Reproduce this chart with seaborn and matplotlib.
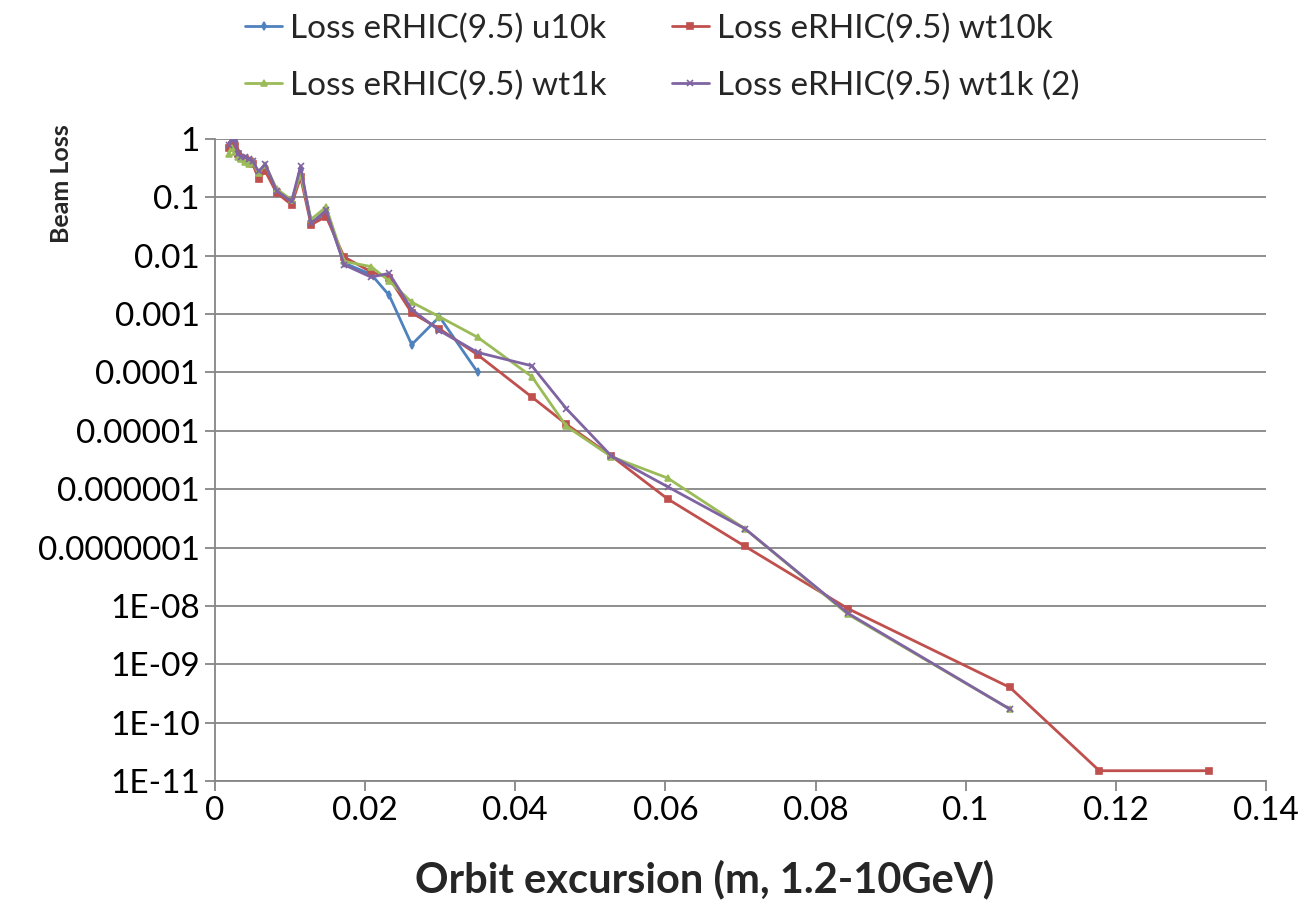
import numpy as np
import pandas as pd
import matplotlib
matplotlib.use('Agg')
import matplotlib.pyplot as plt
import seaborn as sns

# Orbit excursion (m) at each sample point
x_all = [0.0018, 0.0022, 0.0026, 0.0030, 0.0035, 0.0040, 0.0045, 0.0050, 0.0058, 0.0067,
         0.0082, 0.0102, 0.0114, 0.0128, 0.0148, 0.0172, 0.0208, 0.0232, 0.0262, 0.0299,
         0.0350, 0.0422, 0.0468, 0.0528, 0.0603, 0.0706, 0.0843, 0.1059, 0.1178, 0.1324]

# Beam loss per series
loss_u10k = [0.75, 0.9, 0.95, 0.6, 0.5, 0.45, 0.42, 0.4, 0.25, 0.33,
             0.12, 0.08, 0.3, 0.036, 0.055, 0.0075, 0.0048, 0.0021, 0.0003, 0.0009,
             0.0001]
loss_wt10k = [0.7, 0.8, 0.75, 0.55, 0.48, 0.45, 0.42, 0.38, 0.21, 0.28,
              0.12, 0.075, 0.22, 0.034, 0.047, 0.0095, 0.0053, 0.0042, 0.00105, 0.00056,
              0.0002, 3.8e-5, 1.3e-5, 3.7e-6, 6.8e-7, 1.05e-7, 9e-9, 4e-10, 1.5e-11, 1.5e-11]
loss_wt1k = [0.55, 0.7, 0.6, 0.5, 0.45, 0.40, 0.38, 0.40, 0.26, 0.36,
             0.14, 0.09, 0.25, 0.042, 0.068, 0.008, 0.0065, 0.0037, 0.0016, 0.0009,
             0.0004, 8.5e-5, 1.2e-5, 3.6e-6, 1.55e-6, 2.1e-7, 7.2e-9, 1.7e-10]
loss_wt1k_2 = [0.8, 1.0, 1.0, 0.55, 0.5, 0.5, 0.45, 0.42, 0.28, 0.37,
               0.13, 0.085, 0.34, 0.036, 0.06, 0.007, 0.0043, 0.005, 0.0012, 0.00052,
               0.00022, 0.00013, 2.4e-5, 3.7e-6, 1.1e-6, 2.1e-7, 7.5e-9, 1.7e-10]

series_names = ['Loss eRHIC(9.5) u10k', 'Loss eRHIC(9.5) wt10k',
                'Loss eRHIC(9.5) wt1k', 'Loss eRHIC(9.5) wt1k (2)']
series_values = [loss_u10k, loss_wt10k, loss_wt1k, loss_wt1k_2]

y_ticks = [1, 0.1, 0.01, 0.001, 1e-4, 1e-5, 1e-6, 1e-7, 1e-8, 1e-9, 1e-10, 1e-11]
y_ticklabels = ['1', '0.1', '0.01', '0.001', '0.0001', '0.00001', '0.000001', '0.0000001',
                '1E-08', '1E-09', '1E-10', '1E-11']
x_ticks = [0, 0.02, 0.04, 0.06, 0.08, 0.1, 0.12, 0.14]
x_ticklabels = ['0', '0.02', '0.04', '0.06', '0.08', '0.1', '0.12', '0.14']

colors = ['#4F81BD', '#C0504D', '#9BBB59', '#8064A2']
markers = ['d', 's', '^', 'x']
marker_sizes = [4, 5, 5, 5]

sns.set_theme(style='white')
plt.rcParams['font.family'] = ['Lato', 'DejaVu Sans']

fig = plt.figure(figsize=(13.07, 9.06), dpi=100)
ax = fig.add_axes([215 / 1307, 1 - 781 / 906, (1266 - 215) / 1307, (781 - 139) / 906])

for name, vals, c, m, ms in zip(series_names, series_values, colors, markers, marker_sizes):
    df = pd.DataFrame({'x': x_all[:len(vals)], 'y': vals})
    sns.lineplot(data=df, x='x', y='y', ax=ax, color=c, marker=m, markersize=ms,
                 markeredgecolor=c, markeredgewidth=1.2, linewidth=2, label=name,
                 estimator=None, sort=False)

ax.set_yscale('log')
ax.set_ylim(1e-11, 1)
ax.set_xlim(0, 0.14)
ax.set_yticks(y_ticks)
ax.set_yticklabels(y_ticklabels)
ax.set_xticks(x_ticks)
ax.set_xticklabels(x_ticklabels)
ax.yaxis.set_minor_locator(matplotlib.ticker.NullLocator())

ax.grid(axis='y', color='#868686', linewidth=1.3)
ax.grid(axis='x', visible=False)
ax.set_axisbelow(True)
for s in ['top', 'right']:
    ax.spines[s].set_visible(False)
for s in ['left', 'bottom']:
    ax.spines[s].set_color('#868686')
    ax.spines[s].set_linewidth(1.3)
ax.tick_params(axis='both', which='major', direction='out', length=7, width=1.3,
               color='#868686', labelsize=24, labelcolor='black', pad=4,
               left=True, bottom=True)

ax.set_xlabel('Orbit excursion (m, 1.2-10GeV)', fontsize=30, fontweight='bold')
ax.xaxis.set_label_coords(0.466, -0.122)
ax.set_ylabel('Beam Loss', fontsize=18, fontweight='bold')
ax.yaxis.set_label_coords(-0.135, 0.93)

ax.get_legend().remove()
handles, labels = ax.get_legend_handles_labels()
# row-major order for the two-column legend
order = [0, 2, 1, 3]
fig.legend([handles[i] for i in order], [labels[i] for i in order],
           loc='upper left', bbox_to_anchor=(232 / 1307, 1.0),
           ncol=2, frameon=False, fontsize=24, handlelength=1.1, handletextpad=0.25,
           columnspacing=1.95, labelspacing=0.8, borderaxespad=0.0)

fig.savefig('out.png', dpi=100)
